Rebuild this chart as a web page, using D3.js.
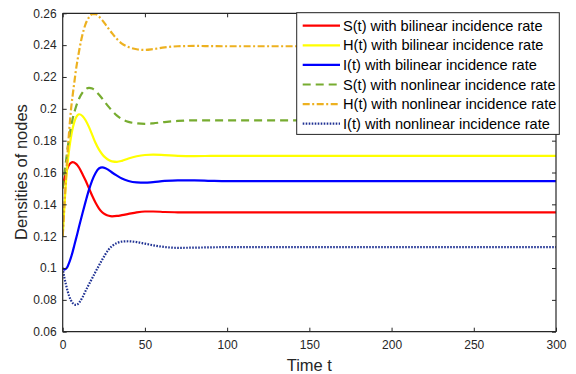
<!DOCTYPE html>
<html><head><meta charset="utf-8">
<script src="https://cdn.jsdelivr.net/npm/d3@7"></script>
<style>body{margin:0;background:#fff}svg{display:block}text{font-family:Arial,"Liberation Sans",sans-serif}</style>
</head><body>
<svg id="c" width="576" height="374"></svg>
<script>
const time = [0,1,2,3,4,5,6,7,8,9,10,12,14,16,18,20,22,24,26,28,30,33,36,40,45,50,55,62,70,80,90,100,120,150,200,250,300];
const S_bi = [0.150,0.156,0.160,0.163,0.165,0.166,0.1665,0.1663,0.1655,0.1645,0.163,0.159,0.1548,0.150,0.1452,0.141,0.1375,0.135,0.1336,0.1328,0.1325,0.1327,0.1332,0.134,0.135,0.1355,0.1355,0.1352,0.135,0.1349,0.1349,0.135,0.135,0.135,0.135,0.135,0.135];
const H_bi = [0.120,0.138,0.154,0.166,0.175,0.182,0.1875,0.1915,0.1943,0.196,0.1966,0.1955,0.1927,0.1885,0.1835,0.1785,0.1745,0.1715,0.1693,0.1678,0.167,0.1667,0.1673,0.1688,0.1702,0.171,0.1712,0.1709,0.1705,0.1703,0.1704,0.1705,0.1705,0.1705,0.1705,0.1705,0.1705];
const I_bi = [0.100,0.099,0.0995,0.101,0.1035,0.1065,0.110,0.114,0.118,0.122,0.1262,0.1343,0.142,0.1492,0.1552,0.1597,0.1625,0.1632,0.1627,0.1615,0.160,0.158,0.1562,0.1547,0.1538,0.1536,0.154,0.1547,0.1551,0.1551,0.1548,0.1546,0.1546,0.1546,0.1546,0.1546,0.1546];
const S_nl = [0.150,0.159,0.167,0.1755,0.1825,0.1885,0.1935,0.1975,0.201,0.204,0.2065,0.2102,0.2124,0.2132,0.2127,0.2112,0.209,0.2065,0.2038,0.2012,0.1988,0.1957,0.1935,0.1918,0.1909,0.1906,0.1909,0.1917,0.1924,0.1928,0.1928,0.1927,0.1927,0.1927,0.1927,0.1927,0.1927];
const H_nl = [0.120,0.139,0.157,0.173,0.187,0.199,0.208,0.216,0.224,0.2305,0.2365,0.2465,0.2535,0.2575,0.2594,0.2594,0.258,0.2557,0.253,0.2502,0.2475,0.2438,0.241,0.2388,0.2374,0.237,0.2375,0.2386,0.2393,0.2395,0.2394,0.2393,0.2393,0.2393,0.2393,0.2393,0.2393];
const I_nl = [0.100,0.094,0.0895,0.0855,0.0822,0.0797,0.0781,0.0771,0.0768,0.0772,0.0782,0.0815,0.0858,0.0898,0.0937,0.0977,0.1015,0.1052,0.1087,0.1117,0.1138,0.1157,0.1166,0.1168,0.1163,0.1153,0.1143,0.1132,0.1127,0.1128,0.113,0.1131,0.1131,0.1131,0.1131,0.1131,0.1131];
const seriesNames = ["S(t) with bilinear incidence rate","H(t) with bilinear incidence rate","I(t) with bilinear incidence rate","S(t) with nonlinear incidence rate","H(t) with nonlinear incidence rate","I(t) with nonlinear incidence rate"];
const xTicks = [0,50,100,150,200,250,300];
const yTicks = [0.06,0.08,0.1,0.12,0.14,0.16,0.18,0.2,0.22,0.24,0.26];

const styles = [
  {color:"#ff0000", dash:null, w:2.2},
  {color:"#ffff00", dash:null, w:2.2},
  {color:"#0000ff", dash:null, w:2.2},
  {color:"#77ac30", dash:"8,5", w:2.2},
  {color:"#edb120", dash:"7,2.5,2,2.5", w:2.2},
  {color:"#1f3193", dash:"1.6,1.4", w:2.2}
];
const values = [S_bi,H_bi,I_bi,S_nl,H_nl,I_nl];

const svg = d3.select("#c");
const L = 62.7, R = 556, T = 13.3, B = 331.7;
const x = d3.scaleLinear().domain([0,300]).range([L,R]);
const y = d3.scaleLinear().domain([0.06,0.26]).range([B,T]);
const axc = "#262626";

svg.append("clipPath").attr("id","cp").append("rect").attr("x",L).attr("y",T).attr("width",R-L).attr("height",B-T);
const line = d3.line().x(d=>x(d[0])).y(d=>y(d[1])).curve(d3.curveMonotoneX);
const g = svg.append("g").attr("clip-path","url(#cp)");
values.forEach((v,i)=>{
  g.append("path").datum(time.map((t,k)=>[t,v[k]]))
   .attr("d",line).attr("fill","none").attr("stroke",styles[i].color)
   .attr("stroke-width",styles[i].w).attr("stroke-dasharray",styles[i].dash);
});

const xa = svg.append("g").attr("transform",`translate(0,${B})`)
  .call(d3.axisBottom(x).tickValues(xTicks).tickSize(-4).tickPadding(9).tickFormat(d3.format("d")));
const ya = svg.append("g").attr("transform",`translate(${L},0)`)
  .call(d3.axisLeft(y).tickValues(yTicks).tickSize(-4).tickPadding(6).tickFormat(d=>d3.format("")(+d.toFixed(2))));
const xt = svg.append("g").attr("transform",`translate(0,${T})`)
  .call(d3.axisTop(x).tickValues(xTicks).tickSize(-4).tickFormat(""));
const yr = svg.append("g").attr("transform",`translate(${R},0)`)
  .call(d3.axisRight(y).tickValues(yTicks).tickSize(-4).tickFormat(""));
[xa,ya,xt,yr].forEach(a=>{
  a.select(".domain").attr("stroke",axc).attr("stroke-width",1.2);
  a.selectAll(".tick line").attr("stroke",axc).attr("stroke-width",1);
  a.selectAll(".tick text").attr("fill",axc).style("font-size","12px").style("font-family","Arial, 'Liberation Sans', sans-serif");
});
xa.select(".domain").attr("d",`M${L},0H${R}`);
ya.select(".domain").attr("d",`M0,${B}V${T}`);
xt.select(".domain").attr("d",`M${L},0H${R}`);
yr.select(".domain").attr("d",`M0,${B}V${T}`);

svg.append("text").attr("x",(L+R)/2).attr("y",371).attr("text-anchor","middle")
  .style("font-size","16.5px").attr("fill",axc).text("Time t");
svg.append("text").attr("transform",`translate(27,172) rotate(-90)`).attr("text-anchor","middle")
  .style("font-size","16.5px").attr("fill",axc).text("Densities of nodes");

const lg = svg.append("g");
lg.append("rect").attr("x",296.7).attr("y",12.7).attr("width",262.6).attr("height",121.7)
  .attr("fill","#fff").attr("stroke",axc).attr("stroke-width",1);
seriesNames.forEach((n,i)=>{
  const yy = 25.7 + i*19.6;
  lg.append("line").attr("x1",302.7).attr("x2",340).attr("y1",yy).attr("y2",yy)
    .attr("stroke",styles[i].color).attr("stroke-width",styles[i].w).attr("stroke-dasharray",styles[i].dash);
  lg.append("text").attr("x",343).attr("y",yy+5).style("font-size","14.6px").attr("fill","#000").text(n);
});
</script>
</body></html>
